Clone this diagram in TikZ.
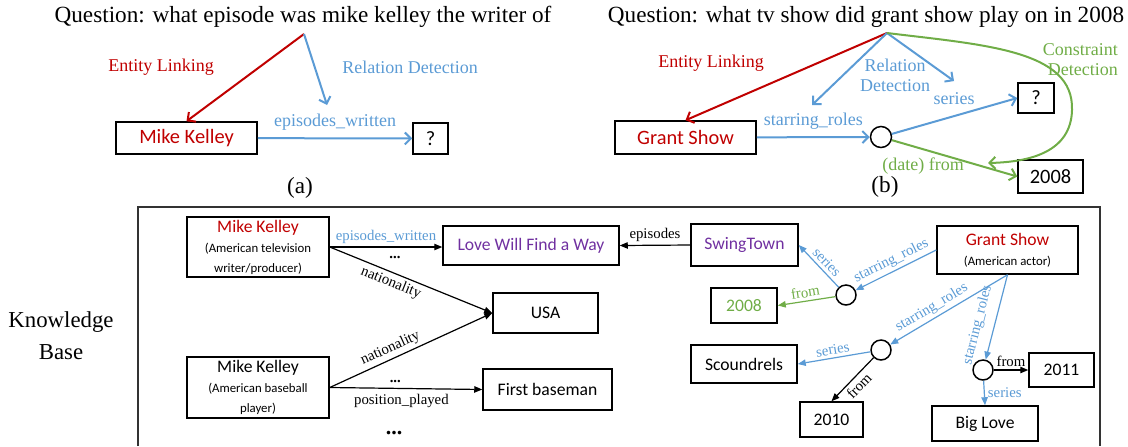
\documentclass[tikz,border=0pt]{standalone}
\usepackage{fontspec}
\setmainfont{Liberation Serif}
\newfontfamily\calibri{Carlito}
\usetikzlibrary{arrows.meta}
\definecolor{elred}{HTML}{C00000}
\definecolor{rdblue}{HTML}{5B9BD5}
\definecolor{cdgreen}{HTML}{70AD47}
\definecolor{kbpurple}{HTML}{7030A0}
\newcommand{\kbsub}{\fontsize{6.4}{7.2}\selectfont}

\begin{document}
\begin{tikzpicture}[x=0.5pt, y=-0.5pt,
  qbox/.style={draw, line width=0.75pt, inner sep=0pt, font=\calibri\fontsize{10.2}{12}\selectfont},
  kbbox/.style={draw, line width=0.75pt, inner sep=0pt, align=center, font=\calibri\fontsize{8.8}{10}\selectfont},
  hub/.style={circle, draw, line width=0.75pt, inner sep=0pt, minimum size=10.5pt},
  link/.style={line width=1pt, -{Straight Barb[length=3pt,width=6pt]}},
  kbedge/.style={line width=0.6pt, -{Triangle[length=4pt,width=3.2pt]}},
  qtext/.style={font=\fontsize{11.6}{14}\selectfont},
  lab/.style={font=\fontsize{9}{10}\selectfont, align=center},
  kblab/.style={font=\fontsize{7.4}{8.5}\selectfont, inner sep=1.5pt},
  kbdots/.style={font=\bfseries\fontsize{7.4}{8.5}\selectfont, inner sep=1pt}]
\useasboundingbox (0,0) rectangle (1128,446);

% (a) simple question
\node[qtext] (qtexta) at (303,17) {Question: what episode was mike kelley the writer of};
\coordinate (qa) at (304,34);
\coordinate (ra) at (327,105);
\node[qbox, text=elred, minimum width=70.5pt, minimum height=16pt] (mka) at (186.5,138) {Mike Kelley};
\node[qbox, minimum width=17.5pt, minimum height=15.5pt] (qma) at (430.5,138.5) {?};
\draw[link, elred] (qa) -- (mka.north);
\draw[link, rdblue] (qa) -- (ra);
\draw[link, rdblue] (mka) -- (qma) node[lab, midway, above, text=rdblue] (wra) {episodes\_written};
\node[lab, text=elred] (ela) at (161,67) {Entity Linking};
\node[lab, text=rdblue] (rda) at (410,67) {Relation Detection};
\node[qtext] (capa) at (300,188) {(a)};

% (b) question with constraint
\node[qtext] (qtextb) at (866,17) {Question: what tv show did grant show play on in 2008};
\coordinate (qb) at (887,33);
\coordinate (rb1) at (812,105);
\coordinate (rb2) at (954,81);
\coordinate (cdb) at (988,163);
\node[qbox, text=elred, minimum width=70.5pt, minimum height=16.5pt] (gsb) at (685.5,137.5) {Grant Show};
\node[hub] (hb) at (881,137) {};
\node[qbox, minimum width=18pt, minimum height=15pt] (qmb) at (1036,98) {?};
\node[qbox, minimum width=32.5pt, minimum height=16.5pt] (yrb) at (1050.5,176.5) {2008};
\draw[link, elred] (qb) -- (gsb.north);
\draw[link, rdblue] (qb) -- (rb1);
\draw[link, rdblue] (qb) -- (rb2);
\draw[link, cdgreen] (qb) .. controls (985,45) and (1074,50) .. (1072,110) .. controls (1071,152) and (1030,162) .. (cdb);
\draw[link, rdblue] (gsb) -- (hb) node[lab, midway, above, text=rdblue] (srb) {starring\_roles};
\draw[link, rdblue] (hb) -- (qmb.west);
\draw[link, cdgreen] (hb) -- (yrb.west);
\node[lab, text=elred] (elb) at (711,63) {Entity Linking};
\node[lab, text=rdblue] (rdb) at (895,75) {Relation\\Detection};
\node[lab, text=rdblue] (seb) at (954,99) {series};
\node[lab, text=cdgreen, align=right, anchor=east] (cnb) at (1125,60) {Constraint\\Detection};
\node[lab, text=cdgreen] (frb) at (923,166) {(date) from};
\node[qtext] (capb) at (885,187) {(b)};

% knowledge base
\draw[line width=0.6pt, black!80] (138,446) -- (138,207) -- (1100,207) -- (1100,446);
\node[font=\fontsize{11.4}{16}\selectfont, align=center] (kbname) at (61,336) {Knowledge\\Base};
\node[kbbox, minimum width=71pt, minimum height=30pt] (mk1) at (258,247) {\textcolor{elred}{Mike Kelley}\\\kbsub (American television\\\kbsub writer/producer)};
\node[kbbox, text=kbpurple, minimum width=88pt, minimum height=19.5pt] (love) at (531,245.5) {Love Will Find a Way};
\node[kbbox, minimum width=52.5pt, minimum height=20pt] (usa) at (545.5,313) {USA};
\node[kbbox, minimum width=71pt, minimum height=30.5pt] (mk2) at (258,387.5) {Mike Kelley\\\kbsub (American baseball\\\kbsub player)};
\node[kbbox, minimum width=64.5pt, minimum height=20.5pt] (fb) at (547.5,389.5) {First baseman};
\node[kbbox, text=kbpurple, minimum width=53.5pt, minimum height=21pt] (swing) at (744.5,245) {SwingTown};
\node[kbbox, minimum width=70.5pt, minimum height=24pt] (gs) at (1007.5,250) {\textcolor{elred}{Grant Show}\\\kbsub (American actor)};
\node[hub, minimum size=10pt] (c1) at (846,295) {};
\node[kbbox, text=cdgreen, minimum width=33pt, minimum height=17.5pt] (y2008) at (744,305.5) {2008};
\node[hub, minimum size=10pt] (c2) at (881,350) {};
\node[kbbox, minimum width=53pt, minimum height=19pt] (scound) at (744,364) {Scoundrels};
\node[kbbox, minimum width=31.5pt, minimum height=17.5pt] (y2010) at (831.5,419.5) {2010};
\node[hub, minimum size=10pt] (c3) at (983,370) {};
\node[kbbox, minimum width=32.5pt, minimum height=17pt] (y2011) at (1061.5,370) {2011};
\node[kbbox, minimum width=53pt, minimum height=17.5pt] (biglove) at (985,423.5) {Big Love};
\node[font=\bfseries\fontsize{11}{12}\selectfont] (more) at (394,433) {...};
\draw[kbedge] (mk1.east) -- (mk1.east -| love.west) node[kblab, midway, above, text=rdblue] (ew1) {episodes\_written} node[kbdots, pos=0.58, below=3.5pt] (dots1) {...};
\draw[kbedge] (mk1.east) -- (usa.west) node[kblab, pos=0.4, below, sloped] (nat1) {nationality};
\draw[kbedge] (mk2.east) -- (usa.west) node[kblab, pos=0.4, above, sloped] (nat2) {nationality};
\draw[kbedge] (mk2.east) -- (fb.west) node[kbdots, pos=0.43, above=1.5pt] (dots2) {...} node[kblab, pos=0.47, below=1pt] (pp) {position\_played};
\draw[kbedge] (swing.west) -- (love.east) node[kblab, midway, above] (ep) {episodes};
\draw[kbedge, rdblue] (gs.west) -- (c1) node[kblab, pos=0.5, above, sloped] (sr1) {starring\_roles};
\draw[kbedge, rdblue] (c1) -- (swing.east) node[kblab, pos=0.45, above, sloped] (se1) {series};
\draw[kbedge, cdgreen] (c1) -- (y2008.east) node[kblab, midway, above, sloped] (fr1) {from};
\draw[kbedge, rdblue] (gs.south) -- (c2) node[kblab, pos=0.6, above, sloped] (sr2) {starring\_roles};
\draw[kbedge, rdblue] (c2) -- (scound.east) node[kblab, midway, above, sloped] (se2) {series};
\draw[kbedge] (c2) -- (y2010.north) node[kblab, midway, below, sloped] (fr2) {from};
\draw[kbedge, rdblue] (gs.south) -- (c3) node[kblab, pos=0.64, above=3pt, sloped] (sr3) {starring\_roles};
\draw[kbedge] (c3) -- (y2011.west) node[kblab, midway, above] (fr3) {from};
\draw[kbedge, rdblue] (c3) -- (biglove.north) node[kblab, midway, right] (se3) {series};
\end{tikzpicture}
\end{document}
